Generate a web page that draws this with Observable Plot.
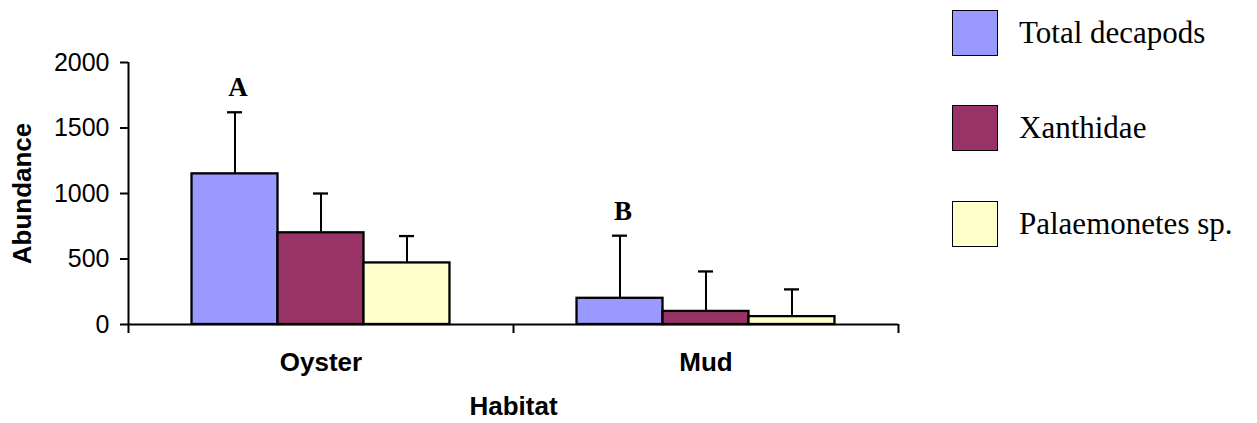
<!DOCTYPE html>
<html>
<head>
<meta charset="utf-8">
<script src="https://cdn.jsdelivr.net/npm/d3@7"></script>
<script src="https://cdn.jsdelivr.net/npm/@observablehq/plot@0.6"></script>
<style>
  html, body { margin: 0; padding: 0; background: #fff; }
  #wrap { position: relative; width: 1257px; height: 423px; }
  #legend { position: absolute; left: 952px; top: 0; font-family: "Liberation Serif", "Times New Roman", serif; font-size: 31px; color: #000; }
  .item { position: absolute; left: 0; height: 46px; display: flex; align-items: center; white-space: nowrap; }
  .sw { width: 44px; height: 44px; border: 1.3px solid #000; box-sizing: content-box; margin-right: 21px; }
</style>
</head>
<body>
<div id="wrap"><div id="chart"></div><div id="legend"></div></div>
<script>
const habitats = ["Oyster", "Mud"];
const series = ["Total decapods", "Xanthidae", "Palaemonetes sp."];
const colors = ["#9999ff", "#993366", "#ffffcc"];
const oysterMeans = [1150, 700, 470];
const oysterUpper = [1620, 1000, 675];
const mudMeans = [200, 100, 60];
const mudUpper = [678, 405, 268];
const letters = ["A", "B"];
const yTicks = [0, 500, 1000, 1500, 2000];
const yLabel = "Abundance";
const xLabel = "Habitat";

const means = [oysterMeans, mudMeans];
const uppers = [oysterUpper, mudUpper];
const groupFrac = 0.67;
const pad = (1 - groupFrac) / 2;
const bw = groupFrac / series.length;

const rows = [];
habitats.forEach((h, i) => {
  series.forEach((s, k) => {
    const x1 = i + pad + k * bw;
    rows.push({habitat: h, series: s, x1, x2: x1 + bw, xc: x1 + bw / 2, mean: means[i][k], upper: uppers[i][k]});
  });
});
const letterRows = habitats.map((h, i) => {
  const r = rows.find(d => d.habitat === h && d.series === series[0]);
  return {text: letters[i], x: r.xc, y: r.upper};
});
const catRows = habitats.map((h, i) => ({text: h, x: i + 0.5}));

const sans = "'Liberation Sans', Arial, sans-serif";
const serif = "'Liberation Serif', 'Times New Roman', serif";

const chart = Plot.plot({
  width: 1257,
  height: 423,
  marginLeft: 128,
  marginRight: 359,
  marginTop: 62,
  marginBottom: 99,
  style: {fontFamily: sans, background: "#fff", color: "#000", overflow: "visible"},
  x: {type: "linear", domain: [0, habitats.length], axis: null},
  y: {domain: [0, 2000], axis: null},
  color: {domain: series, range: colors},
  marks: [
    Plot.axisY({ticks: yTicks, tickSize: 8, tickPadding: 11, tickFormat: d3.format("d"), fontSize: 25, label: null, stroke: "#000", strokeWidth: 2, fill: "#000"}),
    Plot.axisX({ticks: d3.range(habitats.length + 1), tickSize: 9, tickFormat: () => "", label: null, stroke: "#000", strokeWidth: 2}),
    Plot.ruleX([0], {y1: 0, y2: 2000, stroke: "#000", strokeWidth: 2}),
    Plot.ruleY([0], {stroke: "#000", strokeWidth: 2}),
    Plot.rect(rows, {x1: "x1", x2: "x2", y1: 0, y2: "mean", fill: "series", stroke: "#000", strokeWidth: 2.3}),
    Plot.ruleX(rows, {x: "xc", y1: "mean", y2: "upper", stroke: "#000", strokeWidth: 2}),
    Plot.ruleY(rows, {y: "upper", x1: "xc", x2: "xc", insetLeft: -7.5, insetRight: -7.5, stroke: "#000", strokeWidth: 2.3}),
    Plot.text(letterRows, {x: "x", y: "y", text: "text", dx: 3, dy: -16, lineAnchor: "bottom", fontFamily: serif, fontWeight: "bold", fontSize: 27, fill: "#000"}),
    Plot.text(catRows, {x: "x", y: () => 0, text: "text", dy: 38, lineAnchor: "middle", fontWeight: "bold", fontSize: 26, fill: "#000"}),
    Plot.text([xLabel], {frameAnchor: "bottom", dy: 82, text: d => d, lineAnchor: "middle", fontWeight: "bold", fontSize: 26, fill: "#000"}),
    Plot.text([yLabel], {frameAnchor: "left", dx: -106, rotate: -90, textAnchor: "middle", text: d => d, lineAnchor: "middle", fontWeight: "bold", fontSize: 26, fill: "#000"})
  ]
});
document.getElementById("chart").appendChild(chart);

const legend = document.getElementById("legend");
const tops = [10, 105, 201];
series.forEach((s, k) => {
  const item = document.createElement("div");
  item.className = "item";
  item.style.top = tops[k] + "px";
  const sw = document.createElement("div");
  sw.className = "sw";
  sw.style.background = colors[k];
  const t = document.createElement("span");
  t.textContent = s;
  item.appendChild(sw);
  item.appendChild(t);
  legend.appendChild(item);
});
</script>
</body>
</html>
